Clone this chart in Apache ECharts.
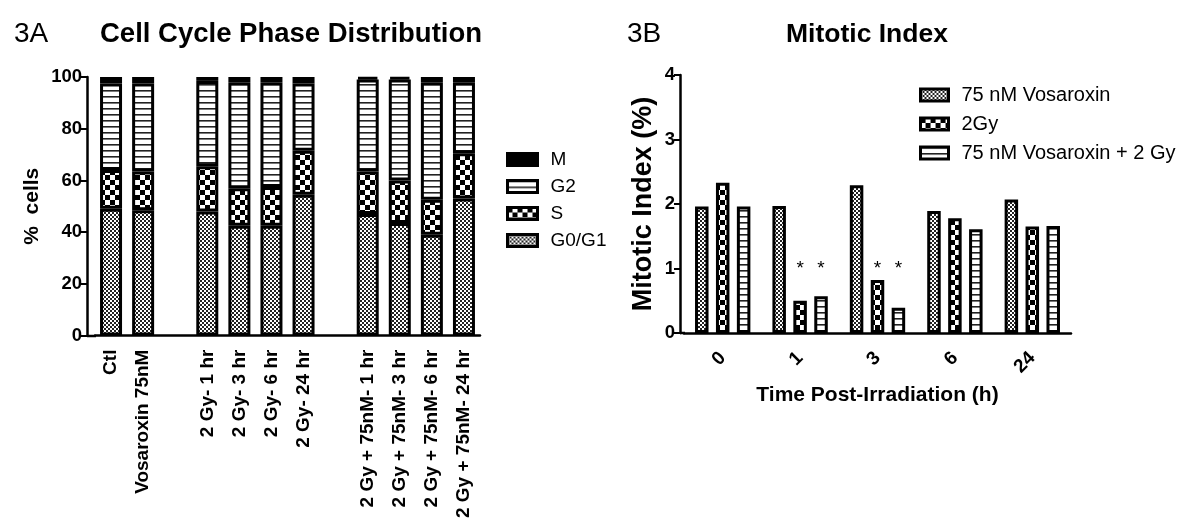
<!DOCTYPE html>
<html><head><meta charset="utf-8">
<script src="https://cdn.jsdelivr.net/npm/echarts@6/dist/echarts.min.js"></script>
<style>html,body{margin:0;padding:0;background:#fff}#c{width:1200px;height:521px}</style>
</head><body><div id="c"></div>
<script>
// ---------- Data: 3A Cell Cycle Phase Distribution ----------
const phaseCategories = ['Ctl','Vosaroxin 75nM','','2 Gy- 1 hr','2 Gy- 3 hr','2 Gy- 6 hr','2 Gy- 24 hr',' ','2 Gy + 75nM- 1 hr','2 Gy + 75nM- 3 hr','2 Gy + 75nM- 6 hr','2 Gy + 75nM- 24 hr'];
const g0g1   = [49, 48.5, null, 48, 42.5, 42.5, 54.5, null, 47, 43.5, 39, 53];
const sPhase = [15, 15, null, 17.5, 14.5, 15, 17, null, 16.5, 16.5, 13.5, 17.5];
const g2     = [33.5, 34, null, 33, 41, 40.5, 26, null, 35.5, 39, 45.5, 27.5];
const mPhase = [2.5, 2.5, null, 1.5, 2, 2, 2.5, null, 1, 1, 2, 2];
const phaseLegend = ['M','G2','S','G0/G1'];

// ---------- Data: 3B Mitotic Index ----------
const timeCategories = ['0','1','3','6','24'];
const vosaroxin = [1.96, 1.97, 2.29, 1.89, 2.07];
const gy2       = [2.33, 0.50, 0.82, 1.78, 1.65];
const combo     = [1.96, 0.57, 0.39, 1.61, 1.66];
const starCats  = ['1','3'];
const starLevel = 1.0;
const mitoticLegend = ['75 nM Vosaroxin','2Gy','75 nM Vosaroxin + 2 Gy'];

// ---------- Patterns ----------
function makePattern(kind){
  const c = document.createElement('canvas');
  const ctx = c.getContext('2d');
  if (kind === 'fine') {
    c.width = 4; c.height = 4;
    ctx.fillStyle = '#fff'; ctx.fillRect(0,0,4,4);
    ctx.fillStyle = '#222'; ctx.fillRect(0,0,2,2); ctx.fillRect(2,2,2,2);
  } else if (kind === 'big') {
    c.width = 10; c.height = 10;
    ctx.fillStyle = '#fff'; ctx.fillRect(0,0,10,10);
    ctx.fillStyle = '#000'; ctx.fillRect(0,0,5,5); ctx.fillRect(5,5,5,5);
  } else if (kind === 'stripe') {
    c.width = 4; c.height = 6;
    ctx.fillStyle = '#fff'; ctx.fillRect(0,0,4,6);
    ctx.fillStyle = '#222'; ctx.fillRect(0,0,4,1.6);
  }
  return { image: c, repeat: 'repeat' };
}
const FINE = makePattern('fine'), BIG = makePattern('big'), STRIPE = makePattern('stripe');
const FONT = 'Liberation Sans, Arial, sans-serif';

function barItem(fill){ return { color: fill, borderColor: '#000', borderWidth: 3 }; }
const axisLineStyle = { color: '#000', width: 2.5 };
const tickStyle = { color: '#000', width: 2 };

const chart = echarts.init(document.getElementById('c'), null, { renderer: 'canvas' });

const option = {
  animation: false,
  backgroundColor: '#fff',
  textStyle: { fontFamily: FONT, color: '#000' },
  title: [
    { text: '3A', left: 14, top: 20, padding: 0, textStyle: { fontFamily: FONT, fontSize: 28, fontWeight: 'normal', color: '#000' } },
    { text: 'Cell Cycle Phase Distribution', left: 100, top: 20, padding: 0, textStyle: { fontFamily: FONT, fontSize: 27.5, fontWeight: 'bold', color: '#000' } },
    { text: '3B', left: 627, top: 20, padding: 0, textStyle: { fontFamily: FONT, fontSize: 28, fontWeight: 'normal', color: '#000' } },
    { text: 'Mitotic Index', left: 786, top: 21, padding: 0, textStyle: { fontFamily: FONT, fontSize: 26.5, fontWeight: 'bold', color: '#000' } }
  ],
  legend: [
    { data: phaseLegend, orient: 'vertical', left: 506, top: 150, itemWidth: 30, itemHeight: 12, itemGap: 8,
      icon: 'rect', selectedMode: false, padding: 0,
      itemStyle: { borderColor: '#000', borderWidth: 3 },
      textStyle: { fontFamily: FONT, fontSize: 19, color: '#000', padding: [0,0,0,8] } },
    { data: mitoticLegend, orient: 'vertical', left: 919, top: 85, itemWidth: 28, itemHeight: 12, itemGap: 9,
      icon: 'rect', selectedMode: false, padding: 0,
      itemStyle: { borderColor: '#000', borderWidth: 3 },
      textStyle: { fontFamily: FONT, fontSize: 20, color: '#000', padding: [0,0,0,8] } }
  ],
  grid: [
    { left: 95, top: 77, width: 385, height: 259 },
    { left: 684, top: 75, width: 387, height: 258 }
  ],
  xAxis: [
    { type: 'category', gridIndex: 0, data: phaseCategories,
      axisLine: { lineStyle: axisLineStyle }, axisTick: { alignWithLabel: true, length: 8, lineStyle: tickStyle, interval: 0 },
      axisLabel: { interval: 0, rotate: 90, margin: 14, fontFamily: FONT, fontSize: 19, fontWeight: 'bold', color: '#000' } },
    { type: 'category', gridIndex: 1, data: timeCategories,
      name: 'Time Post-Irradiation (h)', nameLocation: 'middle', nameGap: 52,
      nameTextStyle: { fontFamily: FONT, fontSize: 21, fontWeight: 'bold', color: '#000' },
      axisLine: { lineStyle: axisLineStyle }, axisTick: { alignWithLabel: true, length: 8, lineStyle: tickStyle },
      axisLabel: { interval: 0, rotate: 45, margin: 22, fontFamily: FONT, fontSize: 19, fontWeight: 'bold', color: '#000' } }
  ],
  yAxis: [
    { type: 'value', gridIndex: 0, min: 0, max: 100, interval: 20, offset: 8,
      name: '%  cells', nameLocation: 'middle', nameGap: 44,
      nameTextStyle: { fontFamily: FONT, fontSize: 21, fontWeight: 'bold', color: '#000' },
      axisLine: { show: true, lineStyle: axisLineStyle }, axisTick: { show: true, length: 6, lineStyle: tickStyle },
      splitLine: { show: false },
      axisLabel: { margin: 5, fontFamily: FONT, fontSize: 18.5, fontWeight: 'bold', color: '#000' } },
    { type: 'value', gridIndex: 1, min: 0, max: 4, interval: 1, offset: 4,
      name: 'Mitotic Index (%)', nameLocation: 'middle', nameGap: 23,
      nameTextStyle: { fontFamily: FONT, fontSize: 27, fontWeight: 'bold', color: '#000' },
      axisLine: { show: true, lineStyle: axisLineStyle }, axisTick: { show: true, length: 6, lineStyle: tickStyle },
      splitLine: { show: false },
      axisLabel: { margin: 5, fontFamily: FONT, fontSize: 18.5, fontWeight: 'bold', color: '#000' } }
  ],
  graphic: [
    { type: 'line', shape: { x1: 87, y1: 336, x2: 96, y2: 336 }, style: { stroke: '#000', lineWidth: 2.5 } },
    { type: 'line', shape: { x1: 680, y1: 333, x2: 685, y2: 333 }, style: { stroke: '#000', lineWidth: 2.5 } }
  ],
  series: [
    { name: 'G0/G1', type: 'bar', stack: 'cc', xAxisIndex: 0, yAxisIndex: 0, barWidth: 22, data: g0g1, itemStyle: barItem(FINE) },
    { name: 'S', type: 'bar', stack: 'cc', xAxisIndex: 0, yAxisIndex: 0, barWidth: 22, data: sPhase, itemStyle: barItem(BIG) },
    { name: 'G2', type: 'bar', stack: 'cc', xAxisIndex: 0, yAxisIndex: 0, barWidth: 22, data: g2, itemStyle: barItem(STRIPE) },
    { name: 'M', type: 'bar', stack: 'cc', xAxisIndex: 0, yAxisIndex: 0, barWidth: 22, data: mPhase, itemStyle: barItem('#000') },

    { name: '75 nM Vosaroxin', type: 'bar', xAxisIndex: 1, yAxisIndex: 1, barWidth: 13.5, barGap: '55%', data: vosaroxin, itemStyle: barItem(FINE) },
    { name: '2Gy', type: 'bar', xAxisIndex: 1, yAxisIndex: 1, barWidth: 13.5, barGap: '55%', data: gy2, itemStyle: barItem(BIG),
      markPoint: { symbol: 'circle', symbolSize: 1, itemStyle: { color: 'rgba(0,0,0,0)' },
        label: { show: true, position: 'inside', formatter: '*', fontFamily: FONT, fontSize: 19, color: '#000' },
        data: starCats.map(c => ({ coord: [c, starLevel] })) } },
    { name: '75 nM Vosaroxin + 2 Gy', type: 'bar', xAxisIndex: 1, yAxisIndex: 1, barWidth: 13.5, barGap: '55%', data: combo, itemStyle: barItem(STRIPE),
      markPoint: { symbol: 'circle', symbolSize: 1, itemStyle: { color: 'rgba(0,0,0,0)' },
        label: { show: true, position: 'inside', formatter: '*', fontFamily: FONT, fontSize: 19, color: '#000' },
        data: starCats.map(c => ({ coord: [c, starLevel] })) } }
  ]
};
chart.setOption(option);
</script>
</body></html>
